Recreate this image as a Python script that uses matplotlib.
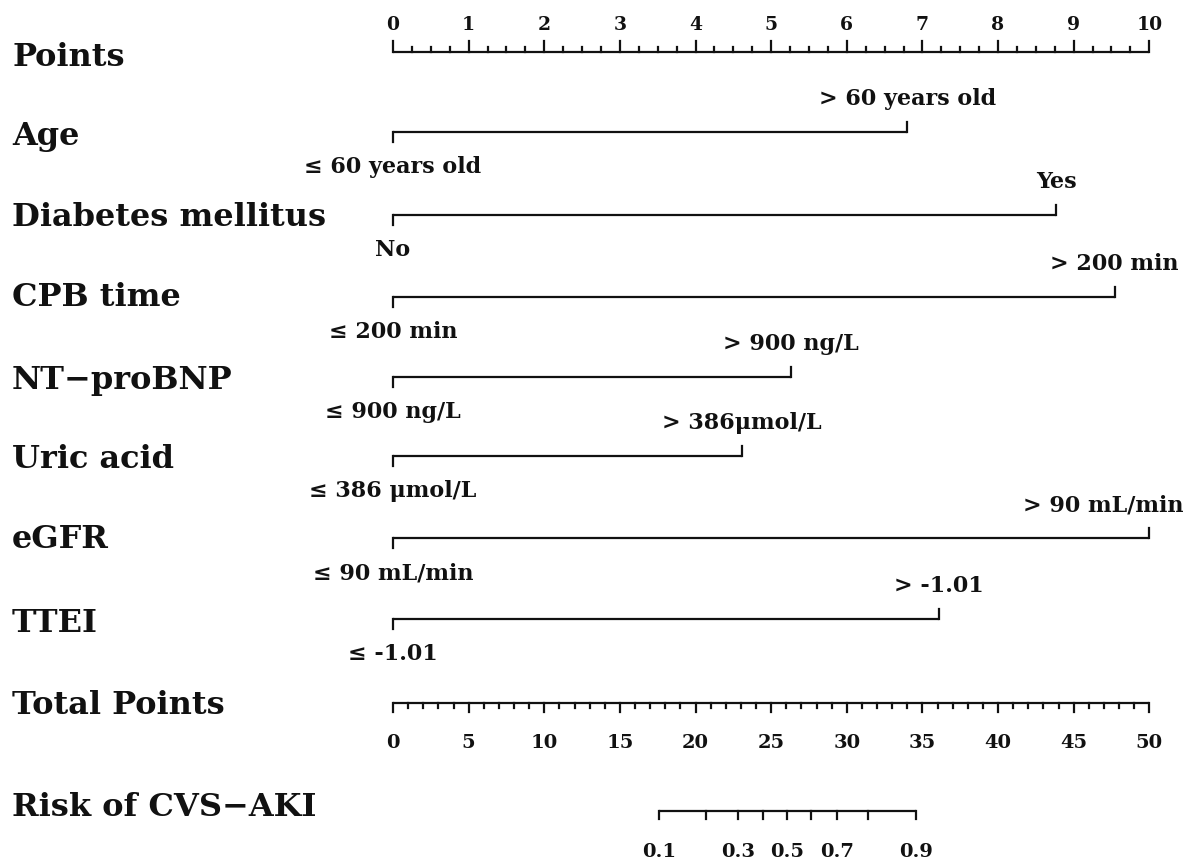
import numpy as np
import matplotlib
matplotlib.use("Agg")
import matplotlib.pyplot as plt

plt.rcParams['font.family'] = ['DejaVu Serif']

# ---- data ----
variables = ["Age", "Diabetes mellitus", "CPB time", "NT\u2212proBNP",
             "Uric acid", "eGFR", "TTEI"]
low_labels = ["\u2264 60 years old", "No", "\u2264 200 min", "\u2264 900 ng/L",
              "\u2264 386 \u03bcmol/L", "\u2264 90 mL/min", "\u2264 -1.01"]
high_labels = ["> 60 years old", "Yes", "> 200 min", "> 900 ng/L",
               "> 386\u03bcmol/L", "> 90 mL/min", "> -1.01"]
high_points = [6.80, 8.77, 9.54, 5.26, 4.61, 10.0, 7.22]

points_ticks = list(range(0, 11))
total_ticks = list(range(0, 55, 5))
risk_ticks = [0.1, 0.2, 0.3, 0.4, 0.5, 0.6, 0.7, 0.8, 0.9]
risk_tick_labels = ["0.1", "", "0.3", "", "0.5", "", "0.7", "", "0.9"]
# logistic model linking total points to risk
lp_center = 26.06
lp_slope = 0.2588

# ---- layout ----
W, H = 1190, 866
x0px, ppu = 393, 75.63
fig = plt.figure(figsize=(W / 100, H / 100), dpi=100)
ax = fig.add_axes([0, 0, 1, 1])
ax.set_xlim(-x0px / ppu, (W - x0px) / ppu)
ax.set_ylim(H, 0)
ax.axis('off')

lw = 1.6
col = '#111111'
label_fs = 23
tick_fs = 13.5
item_fs = 16
px = 1.0 / ppu  # one pixel in x-units
label_x = 12 / ppu - x0px / ppu

def left_label(y, text):
    ax.text(label_x, y, text, fontsize=label_fs, fontweight='bold',
            ha='left', va='center', color=col)

# Points axis
y_pts = 52
left_label(58, "Points")
ax.plot([0, 10], [y_pts, y_pts], color=col, lw=lw, solid_capstyle='butt')
for t in np.arange(0, 10.001, 0.25):
    major = abs(t - round(t)) < 1e-9
    L = 11 if major else 5
    ax.plot([t, t], [y_pts, y_pts - L], color=col, lw=lw)
for t in points_ticks:
    ax.text(t, 25, str(t), fontsize=tick_fs, fontweight='bold',
            ha='center', va='center', color=col)

# Variable rows
row_y = [132, 215, 297, 377, 456, 538, 619]
name_y = [137, 218, 298, 380, 460, 540, 623]
for name, lo, hi, hp, y, ny in zip(variables, low_labels, high_labels,
                                     high_points, row_y, name_y):
    left_label(ny, name)
    ax.plot([0, hp], [y, y], color=col, lw=lw, solid_capstyle='butt')
    ax.plot([0, 0], [y, y + 10], color=col, lw=lw)
    ax.plot([hp, hp], [y, y - 10], color=col, lw=lw)
    ax.text(0, y + 35, lo, fontsize=item_fs, fontweight='bold',
            ha='center', va='center', color=col)
    if hp >= 9.9:
        ax.text(hp + 34 * px, y - 33, hi, fontsize=item_fs, fontweight='bold',
                ha='right', va='center', color=col)
    else:
        ax.text(hp, y - 33, hi, fontsize=item_fs, fontweight='bold',
                ha='center', va='center', color=col)

# Total points axis (0..50 maps onto 0..10 points)
y_tot = 703
left_label(705, "Total Points")
ax.plot([0, 10], [y_tot, y_tot], color=col, lw=lw, solid_capstyle='butt')
for t in range(0, 51):
    L = 9 if t % 5 == 0 else 5
    ax.plot([t / 5, t / 5], [y_tot, y_tot + L], color=col, lw=lw)
for t in total_ticks:
    ax.text(t / 5, 743, str(t), fontsize=tick_fs + 0.5, fontweight='bold',
            ha='center', va='center', color=col)

# Risk axis
y_risk = 811
left_label(808, "Risk of CVS\u2212AKI")
risk_x = [(lp_center + np.log(p / (1 - p)) / lp_slope) / 5 for p in risk_ticks]
ax.plot([risk_x[0], risk_x[-1]], [y_risk, y_risk], color=col, lw=lw,
        solid_capstyle='butt')
for xr, lab in zip(risk_x, risk_tick_labels):
    ax.plot([xr, xr], [y_risk, y_risk + 8], color=col, lw=lw)
    if lab:
        ax.text(xr, 852, lab, fontsize=tick_fs + 0.5, fontweight='bold',
                ha='center', va='center', color=col)

fig.savefig("out.png", dpi=100, facecolor='white')
